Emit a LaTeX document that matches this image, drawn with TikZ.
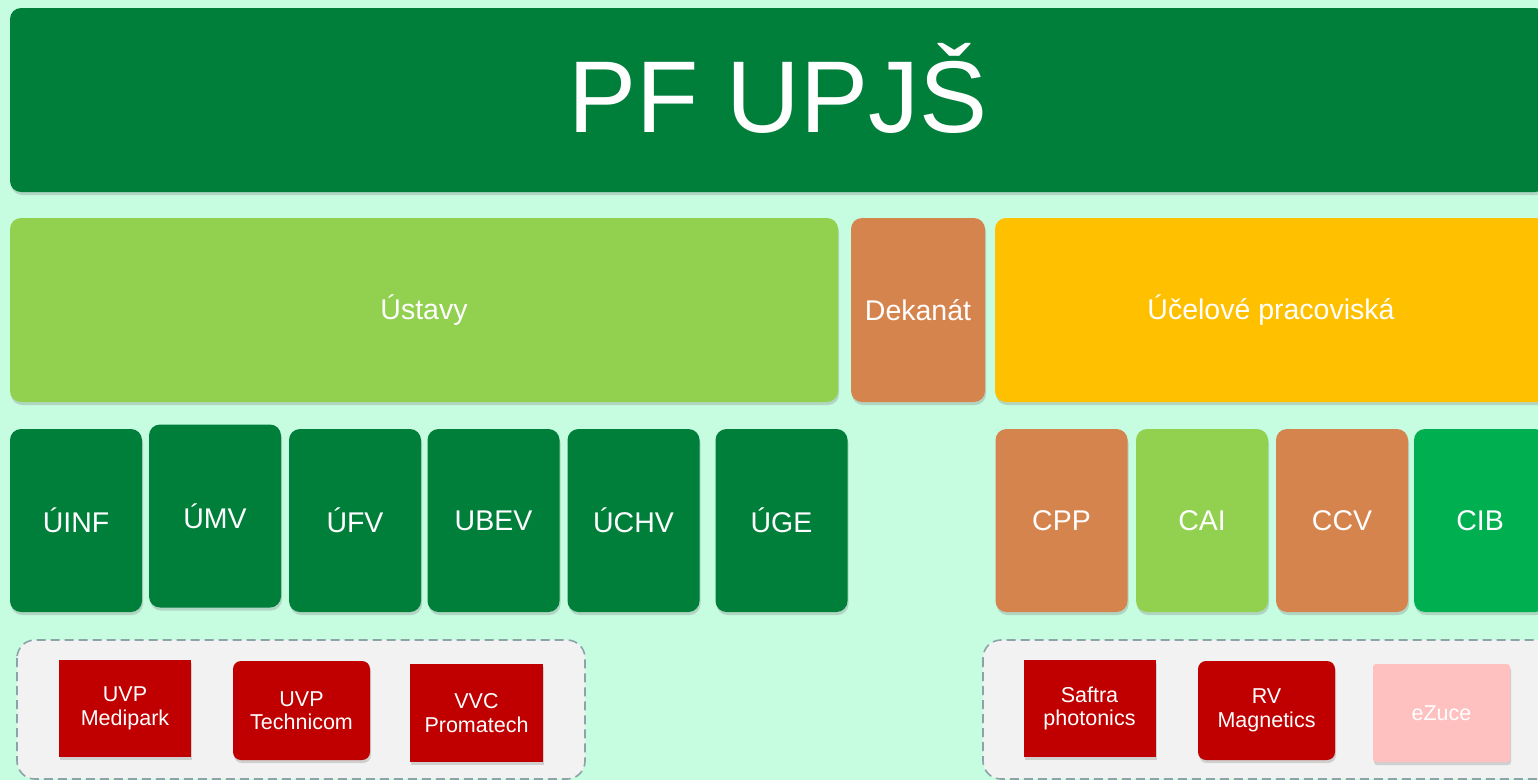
\documentclass[tikz,border=0pt]{standalone}
\usepackage{fontspec}
\setmainfont{Liberation Sans}
\usetikzlibrary{shadows}

\definecolor{bgmint}{HTML}{C6FCE0}
\definecolor{darkgreen}{HTML}{007F3B}
\definecolor{lightgreen}{HTML}{92D050}
\definecolor{brightgreen}{HTML}{00B050}
\definecolor{copper}{HTML}{D6844E}
\definecolor{amber}{HTML}{FFC000}
\definecolor{deepred}{HTML}{C00000}
\definecolor{pink}{HTML}{FFC0C0}
\definecolor{groupfill}{HTML}{F2F2F2}
\definecolor{groupline}{HTML}{8AA4A8}

\tikzset{
	boxshadow/.style={drop shadow={shadow xshift=1pt, shadow yshift=-3pt, opacity=0.3}},
	tile/.style={boxshadow, rounded corners=11pt, text=white, align=center,
		inner sep=0pt, font=\fontsize{28.5}{32}\selectfont},
	unit/.style={tile, minimum width=132pt, minimum height=183pt},
	partner/.style={boxshadow, fill=deepred, text=white, align=center, inner sep=0pt,
		minimum height=97pt, font=\fontsize{21.5}{23.5}\selectfont},
	group/.style={draw=groupline, fill=groupfill, line width=1.6pt,
		dash pattern=on 9pt off 5pt, rounded corners=18pt}
}

\begin{document}
\begin{tikzpicture}[x=1pt, y=-1pt]
	\useasboundingbox (0, 0) rectangle (1538, 780);
	\clip (0, 0) rectangle (1538, 780);
	\fill[bgmint] (0, 0) rectangle (1538, 780);

	% faculty
	\node[tile, fill=darkgreen, minimum width=1536pt, minimum height=184pt,
		font=\fontsize{102}{102}\selectfont] (pf) at (778, 100) {\raisebox{-32pt}[0pt][0pt]{PF UPJŠ}};

	% second row
	\node[tile, fill=lightgreen, minimum width=828pt, minimum height=184pt] (ustavy) at (424, 310) {Ústavy};
	\node[tile, fill=copper, minimum width=134pt, minimum height=184pt] (dekanat) at (918, 310) {Dekanát};
	\node[tile, fill=amber, minimum width=552pt, minimum height=184pt] (ucelove) at (1271, 310) {Účelové pracoviská};

	% institutes
	\node[unit, fill=darkgreen] (uinf) at (76, 520.5) {ÚINF};
	\node[unit, fill=darkgreen] (umv) at (215, 516) {ÚMV};
	\node[unit, fill=darkgreen] (ufv) at (355, 520.5) {ÚFV};
	\node[unit, fill=darkgreen] (ubev) at (493.5, 520.5) {UBEV};
	\node[unit, fill=darkgreen] (uchv) at (633.5, 520.5) {ÚCHV};
	\node[unit, fill=darkgreen] (uge) at (781.5, 520.5) {ÚGE};

	% centres
	\node[unit, fill=copper] (cpp) at (1061.5, 520.5) {CPP};
	\node[unit, fill=lightgreen] (cai) at (1202, 520.5) {CAI};
	\node[unit, fill=copper] (ccv) at (1342, 520.5) {CCV};
	\node[unit, fill=brightgreen] (cib) at (1480, 520.5) {CIB};

	% partner groups
	\draw[group] (17, 640) rectangle (585, 779);
	\draw[group] (983, 640) rectangle (1560, 779);

	\node[partner, minimum width=132pt] (medipark) at (125, 708.5) {UVP\\Medipark};
	\node[partner, minimum width=137pt, minimum height=99pt, rounded corners=8pt] (technicom) at (301.5, 710.5) {UVP\\Technicom};
	\node[partner, minimum width=133pt, minimum height=98pt] (promatech) at (476.5, 713) {VVC\\Promatech};

	\node[partner, minimum width=132pt] (saftra) at (1089.5, 708.5) {Saftra\\photonics};
	\node[partner, minimum width=137pt, minimum height=99pt, rounded corners=8pt] (rvmag) at (1266.5, 710.5) {RV\\Magnetics};
	\node[partner, fill=pink, minimum width=137pt, minimum height=98pt, rounded corners=3pt] (ezuce) at (1441.5, 713) {eZuce};

\end{tikzpicture}
\end{document}
